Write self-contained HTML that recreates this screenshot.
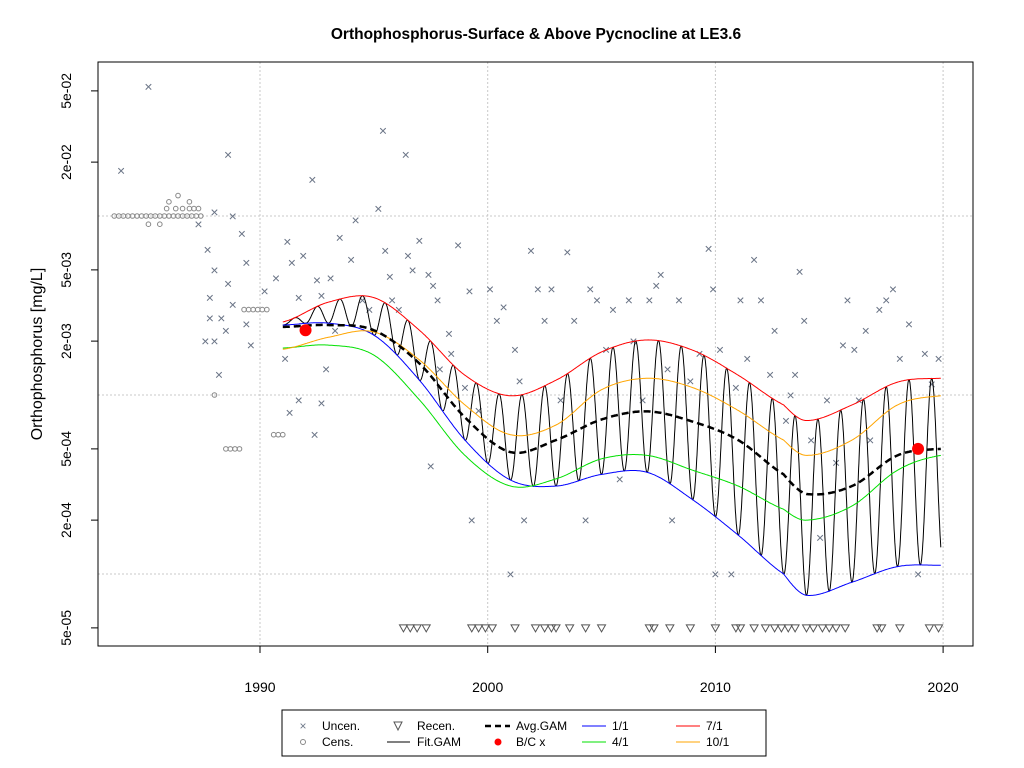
<!DOCTYPE html>
<html><head><meta charset="utf-8"><style>
body{margin:0;background:#fff;}
svg{display:block;font-family:"Liberation Sans",Arial,sans-serif;}
</style></head><body>
<svg id="chart" width="1024" height="768" viewBox="0 0 1024 768">
<rect width="1024" height="768" fill="#fff"/>
<text x="536" y="39" text-anchor="middle" font-size="15.5" font-weight="bold">Orthophosphorus-Surface &amp; Above Pycnocline at LE3.6</text>
<text transform="translate(42,354) rotate(-90)" text-anchor="middle" font-size="16">Orthophosphorus [mg/L]</text>
<g id="grid"></g><g id="marks"></g>
<rect x="98" y="62" width="875" height="584" fill="none" stroke="#000"/>
<g id="axes"></g>
<g>
<rect x="282" y="710" width="484" height="46" fill="#fff" stroke="#000"/>
<g font-size="12">
<text x="303" y="730" text-anchor="middle" fill="#707a8a">×</text>
<text x="322" y="730">Uncen.</text>
<circle cx="303" cy="742" r="2.5" fill="none" stroke="#888"/>
<text x="322" y="746">Cens.</text>
<path d="M394,722 L402,722 L398,730 Z" fill="none" stroke="#555"/>
<text x="417" y="730">Recen.</text>
<line x1="387" y1="742" x2="410" y2="742" stroke="#000"/>
<text x="417" y="746">Fit.GAM</text>
<line x1="485" y1="726" x2="510" y2="726" stroke="#000" stroke-width="2.5" stroke-dasharray="6,4"/>
<text x="516" y="730">Avg.GAM</text>
<circle cx="498" cy="742" r="3.5" fill="red"/>
<text x="516" y="746">B/C x</text>
<line x1="582" y1="726" x2="606" y2="726" stroke="blue"/>
<text x="612" y="730">1/1</text>
<line x1="582" y1="742" x2="606" y2="742" stroke="#00e000"/>
<text x="612" y="746">4/1</text>
<line x1="676" y1="726" x2="700" y2="726" stroke="red"/>
<text x="706" y="730">7/1</text>
<line x1="676" y1="742" x2="700" y2="742" stroke="orange"/>
<text x="706" y="746">10/1</text>
</g></g>
</svg>
<script>
const xTicks=[1990,2000,2010,2020];
const yTickVals=[5e-5,2e-4,5e-4,2e-3,5e-3,2e-2,5e-2];
const yTickLabels=["5e-05","2e-04","5e-04","2e-03","5e-03","2e-02","5e-02"];
const yGrid=[1e-4,1e-3,1e-2];
const knotYears=[1991,1993,1995,1997,1999,2001,2003,2005,2007,2009,2011,2013,2014,2016,2018,2019.9];
const red71=[2.56e-3,3.3e-3,3.5e-3,2.3e-3,1.29e-3,9.9e-4,1.21e-3,1.74e-3,2.03e-3,1.78e-3,1.29e-3,8.8e-4,7.2e-4,8.8e-4,1.18e-3,1.24e-3];
const blue11=[2.46e-3,2.52e-3,2.16e-3,1.21e-3,5.6e-4,3.35e-4,3.1e-4,3.6e-4,3.7e-4,2.6e-4,1.65e-4,1.0e-4,7.6e-5,9e-5,1.1e-4,1.12e-4];
const green41=[1.83e-3,1.9e-3,1.67e-3,9.4e-4,4.6e-4,3.1e-4,3.4e-4,4.4e-4,4.6e-4,3.8e-4,3.1e-4,2.3e-4,2.0e-4,2.4e-4,3.8e-4,4.6e-4];
const orange101=[1.8e-3,2.1e-3,2.25e-3,1.57e-3,8.8e-4,6.0e-4,6.8e-4,1.07e-3,1.24e-3,1.1e-3,8.2e-4,5.6e-4,4.6e-4,5.6e-4,8.8e-4,9.9e-4];
const avgGam=[2.4e-3,2.46e-3,2.3e-3,1.5e-3,7.5e-4,4.8e-4,5.6e-4,7.3e-4,8.1e-4,7.1e-4,5.6e-4,3.6e-4,2.8e-4,3.1e-4,4.6e-4,5e-4];
const bcPoints=[[1992.0,2.3e-3],[2018.9,5e-4]];
const uncen=[[1985.1,5.3e-2],[1983.9,1.8e-2],[1988.6,2.2e-2],[1988.8,1e-2],[1989.2,8e-3],[1988.0,1.05e-2],[1987.3,9e-3],[1987.7,6.5e-3],[1989.4,5.5e-3],[1988.0,5e-3],[1987.8,3.5e-3],[1988.3,2.7e-3],[1987.8,2.7e-3],[1987.6,2e-3],[1988.0,2e-3],[1988.8,3.2e-3],[1988.5,2.3e-3],[1988.2,1.3e-3],[1989.6,1.9e-3],[1988.6,4.2e-3],[1989.4,2.5e-3],
[1990.2,3.8e-3],[1990.7,4.5e-3],[1991.2,7.2e-3],[1991.4,5.5e-3],[1991.7,3.5e-3],[1991.1,1.6e-3],[1991.3,8e-4],[1991.7,9.4e-4],[1991.9,6e-3],[1992.3,1.6e-2],[1992.5,4.4e-3],[1992.7,3.6e-3],[1992.9,1.4e-3],[1992.7,9e-4],[1992.4,6e-4],[1993.1,4.5e-3],[1993.3,2.3e-3],[1993.5,7.6e-3],[1994.0,5.7e-3],[1994.2,9.5e-3],[1994.5,3.4e-3],[1994.8,3e-3],[1995.2,1.1e-2],[1995.4,3e-2],[1995.5,6.4e-3],[1995.7,4.6e-3],[1995.8,3.4e-3],[1996.1,3e-3],[1996.4,2.2e-2],[1996.5,6e-3],[1996.7,5e-3],[1997.0,7.3e-3],[1997.4,4.7e-3],[1997.6,4.1e-3],[1997.8,3.4e-3],[1997.5,4e-4],[1997.9,1.4e-3],[1998.3,2.2e-3],[1998.4,1.7e-3],[1998.7,6.9e-3],[1999.0,1.1e-3],[1999.2,3.8e-3],[1999.3,2e-4],[1999.6,8.2e-4],[2000.1,3.9e-3],[2000.4,2.6e-3],[2000.7,3.1e-3],[2001.0,1e-4],[2001.2,1.8e-3],[2001.4,1.2e-3],[2001.6,2e-4],[2001.9,6.4e-3],[2002.2,3.9e-3],[2002.5,2.6e-3],[2002.8,3.9e-3],[2003.2,9.4e-4],[2003.5,6.3e-3],[2003.8,2.6e-3],[2004.3,2e-4],[2004.5,3.9e-3],[2004.8,3.4e-3],[2005.2,1.8e-3],[2005.5,3e-3],[2005.8,3.4e-4],[2006.2,3.4e-3],[2006.4,2e-3],[2006.8,9.4e-4],[2007.1,3.4e-3],[2007.4,4.1e-3],[2007.6,4.7e-3],[2007.9,1.4e-3],[2008.1,2e-4],[2008.4,3.4e-3],[2008.9,1.2e-3],[2009.3,1.7e-3],[2009.7,6.6e-3],[2009.9,3.9e-3],[2010.0,1e-4],[2010.2,1.8e-3],[2010.7,1e-4],[2010.9,1.1e-3],[2011.1,3.4e-3],[2011.4,1.6e-3],[2011.7,5.7e-3],[2012.0,3.4e-3],[2012.4,1.3e-3],[2012.6,2.3e-3],[2013.1,7.2e-4],[2013.3,1e-3],[2013.5,1.3e-3],[2013.7,4.9e-3],[2013.9,2.6e-3],[2014.2,5.6e-4],[2014.6,1.6e-4],[2014.9,9.4e-4],[2015.3,4.2e-4],[2015.6,1.9e-3],[2015.8,3.4e-3],[2016.1,1.8e-3],[2016.3,9.4e-4],[2016.6,2.3e-3],[2016.8,5.6e-4],[2017.2,3e-3],[2017.5,3.4e-3],[2017.8,3.9e-3],[2018.1,1.6e-3],[2018.5,2.5e-3],[2018.9,1e-4],[2019.2,1.7e-3],[2019.5,1.15e-3],[2019.8,1.6e-3]];
const cens=[[1983.6,1e-2],[1983.8,1e-2],[1984.0,1e-2],[1984.2,1e-2],[1984.4,1e-2],[1984.6,1e-2],[1984.8,1e-2],[1985.0,1e-2],[1985.2,1e-2],[1985.4,1e-2],[1985.6,1e-2],[1985.8,1e-2],[1986.0,1e-2],[1986.2,1e-2],[1986.4,1e-2],[1986.6,1e-2],[1986.8,1e-2],[1987.0,1e-2],[1987.2,1e-2],[1987.4,1e-2],[1985.1,9e-3],[1985.6,9e-3],[1985.9,1.1e-2],[1986.3,1.1e-2],[1986.6,1.1e-2],[1986.9,1.1e-2],[1987.1,1.1e-2],[1987.3,1.1e-2],[1986.0,1.2e-2],[1986.4,1.3e-2],[1986.9,1.2e-2],
[1989.3,3e-3],[1989.5,3e-3],[1989.7,3e-3],[1989.9,3e-3],[1990.1,3e-3],[1990.3,3e-3],[1988.5,5e-4],[1988.7,5e-4],[1988.9,5e-4],[1989.1,5e-4],[1990.6,6e-4],[1990.8,6e-4],[1991.0,6e-4],[1988.0,1e-3]];
const recen=[1996.3,1996.6,1996.9,1997.3,1999.3,1999.6,1999.9,2000.2,2001.2,2002.1,2002.5,2002.8,2003.0,2003.6,2004.3,2005.0,2007.1,2007.3,2008.0,2008.9,2010.0,2010.9,2011.1,2011.7,2012.2,2012.6,2012.9,2013.2,2013.5,2014.0,2014.3,2014.7,2015.0,2015.3,2015.7,2017.1,2017.3,2018.1,2019.4,2019.8];
const recenLevel=5e-5;

const NS="http://www.w3.org/2000/svg";
function X(t){return 260+(t-1990)*22.77;}
function Y(v){return 216+(-2-Math.log10(v))*179;}
function el(tag,attrs,parent){const e=document.createElementNS(NS,tag);for(const k in attrs)e.setAttribute(k,attrs[k]);parent.appendChild(e);return e;}
function interpLog(arr,t){
  const n=knotYears.length;
  if(t<=knotYears[0])return Math.log10(arr[0]);
  if(t>=knotYears[n-1])return Math.log10(arr[n-1]);
  let i=0;while(knotYears[i+1]<t)i++;
  const L=arr.map(v=>Math.log10(v));
  const p0=L[Math.max(i-1,0)],p1=L[i],p2=L[i+1],p3=L[Math.min(i+2,n-1)];
  const u=(t-knotYears[i])/(knotYears[i+1]-knotYears[i]);
  return 0.5*((2*p1)+(-p0+p2)*u+(2*p0-5*p1+4*p2-p3)*u*u+(-p0+3*p1-3*p2+p3)*u*u*u);
}
const grid=document.getElementById('grid'),marks=document.getElementById('marks'),axes=document.getElementById('axes');
xTicks.forEach(t=>{
  const g=el('line',{x1:X(t),x2:X(t),y1:62,y2:646,stroke:'#c8c8c8','stroke-dasharray':'2,2'},grid);
  
  
  const tk=el('line',{x1:X(t),x2:X(t),y1:646,y2:653,stroke:'#000'},axes);
  
  
  const tx=el('text',{x:X(t),y:692,'text-anchor':'middle','font-size':'14'},axes);tx.textContent=t;
  
  
});
yGrid.forEach(v=>{
  const g=el('line',{x1:98,x2:973,y1:Y(v),y2:Y(v),stroke:'#c8c8c8','stroke-dasharray':'2,2'},grid);
  
  
});
yTickVals.forEach((v,i)=>{
  const tk=el('line',{x1:91,x2:98,y1:Y(v),y2:Y(v),stroke:'#000'},axes);
  
  
  const tx=el('text',{transform:`translate(71,${Y(v)}) rotate(-90)`,'text-anchor':'middle','font-size':'14'},axes);tx.textContent=yTickLabels[i];
  
  
});
uncen.forEach(p=>{
  const t=el('text',{x:X(p[0]),y:Y(p[1])+5,'text-anchor':'middle','font-size':'14',fill:'#6a7486'},marks);t.textContent='×';
  
  
});
cens.forEach(p=>{
  const c=el('circle',{cx:X(p[0]),cy:Y(p[1]),r:2.3,fill:'none',stroke:'#888'},marks);
  
  
});
recen.forEach(t=>{
  const x=X(t),y=Y(recenLevel);
  const p=el('path',{d:`M${x-4},${y-3} L${x+4},${y-3} L${x},${y+4} Z`,fill:'none',stroke:'#555'},marks);
  
  
});
function curve(arr,color,w,dash,name){
  let d='';for(let t=1991;t<=2019.9;t+=0.05){d+=(d?'L':'M')+X(t).toFixed(1)+','+Y(Math.pow(10,interpLog(arr,t))).toFixed(1);}
  const p=el('path',{d:d,fill:'none',stroke:color,'stroke-width':w},marks);
  if(dash)p.setAttribute('stroke-dasharray',dash);
  
  
}
(function(){
  let d='';
  for(let t=1991;t<=2019.9;t+=0.01){
    const lr=interpLog(red71,t),lb=interpLog(blue11,t);
    const f=t-Math.floor(t);
    const lv=(lr+lb)/2-(lr-lb)/2*Math.cos(2*Math.PI*f);
    d+=(d?'L':'M')+X(t).toFixed(1)+','+Y(Math.pow(10,lv)).toFixed(1);
  }
  const p=el('path',{d:d,fill:'none',stroke:'#000','stroke-width':1},marks);
  
  
})();
curve(blue11,'blue',1,null,'gam-1-1-line');
curve(green41,'#00e000',1,null,'gam-4-1-line');
curve(red71,'red',1,null,'gam-7-1-line');
curve(orange101,'orange',1,null,'gam-10-1-line');
curve(avgGam,'#000',2.5,'7,4','avg-gam-line');
bcPoints.forEach(p=>{
  const c=el('circle',{cx:X(p[0]),cy:Y(p[1]),r:6,fill:'red'},marks);
  
  
});
</script>
</body></html>
